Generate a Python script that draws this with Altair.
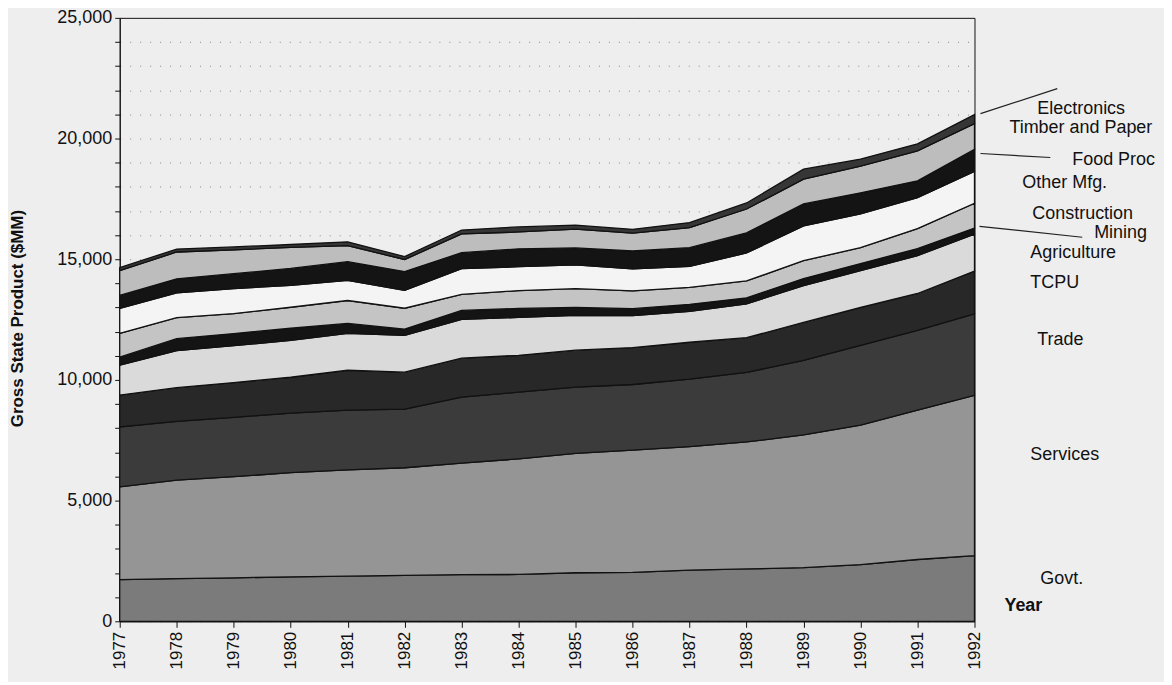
import altair as alt
import pandas as pd

years = list(range(1977, 1993))
sectors = ["Govt.", "Services", "Trade", "TCPU", "Agriculture", "Mining",
           "Construction", "Other Mfg.", "Food Proc", "Timber and Paper", "Electronics"]

govt = [1730, 1770, 1800, 1840, 1870, 1900, 1930, 1940, 2010, 2030, 2120, 2170, 2220, 2350, 2560, 2720]
services = [3840, 4080, 4190, 4320, 4400, 4460, 4620, 4790, 4950, 5060, 5120, 5260, 5500, 5780, 6190, 6640]
trade = [2480, 2430, 2460, 2460, 2480, 2430, 2740, 2760, 2740, 2720, 2790, 2880, 3090, 3300, 3300, 3380]
tcpu = [1320, 1400, 1440, 1490, 1650, 1530, 1610, 1530, 1530, 1530, 1530, 1440, 1570, 1570, 1530, 1770]
agriculture = [1240, 1530, 1530, 1530, 1530, 1530, 1610, 1570, 1440, 1320, 1280, 1400, 1530, 1530, 1570, 1530]
mining = [330, 500, 500, 500, 410, 250, 370, 370, 330, 290, 290, 250, 290, 290, 290, 250]
construction = [990, 870, 830, 870, 950, 870, 660, 740, 780, 740, 700, 700, 740, 660, 830, 1030]
other_mfg = [1030, 1030, 1030, 910, 830, 740, 1070, 990, 990, 910, 870, 1160, 1440, 1400, 1280, 1320]
food_proc = [540, 580, 620, 700, 780, 780, 660, 740, 700, 740, 780, 830, 910, 870, 700, 910]
timber = [1030, 1110, 990, 870, 660, 500, 780, 700, 780, 740, 830, 990, 1030, 1110, 1240, 1070]
electronics = [120, 120, 120, 120, 160, 120, 160, 210, 160, 160, 210, 250, 410, 290, 290, 370]

series = [govt, services, trade, tcpu, agriculture, mining, construction,
          other_mfg, food_proc, timber, electronics]
colors = ["#7b7b7b", "#959595", "#3b3b3b", "#282828", "#dadada", "#141414",
          "#c4c4c4", "#f4f4f4", "#141414", "#bdbdbd", "#363636"]

rows = []
for i, (name, vals) in enumerate(zip(sectors, series)):
    for y, v in zip(years, vals):
        rows.append({"Year": y, "Value": v, "Sector": name, "idx": i})
df = pd.DataFrame(rows)

# annotation labels (pixel positions relative to plot area)
label_text = ["Electronics", "Timber and Paper", "Food Proc", "Other Mfg.", "Construction",
              "Mining", "Agriculture", "TCPU", "Trade", "Services", "Govt."]
label_x = [920, 892, 955, 905, 915, 977, 913, 913, 920, 913, 923]
label_y = [91, 110, 143, 166, 197, 216, 236, 266, 323, 438, 563]
labels = pd.DataFrame({"t": label_text, "lx": label_x, "ly": label_y})

lead_x = [863, 863, 862]
lead_x2 = [940, 933, 965]
lead_y = [96, 136, 209]
lead_y2 = [71, 140, 220]
leads = pd.DataFrame({"x": lead_x, "x2": lead_x2, "y": lead_y, "y2": lead_y2})

FONT = "Liberation Sans"
ytick_values = list(range(0, 25001, 1000))

area = alt.Chart(df).mark_area(stroke="#111111", strokeWidth=1.3, interpolate="linear").encode(
    x=alt.X("Year:Q",
            scale=alt.Scale(domain=[1977, 1992], nice=False, zero=False),
            axis=alt.Axis(values=years, format="d", labelAngle=270, labelAlign="right",
                          labelBaseline="middle", labelFont=FONT, labelFontSize=17,
                          labelColor="#111", labelPadding=4, tickColor="#111", tickSize=6,
                          domainColor="#111", grid=False, title=None)),
    y=alt.Y("Value:Q", stack="zero",
            scale=alt.Scale(domain=[0, 25000], nice=False),
            axis=alt.Axis(values=ytick_values,
                          labelExpr="datum.value % 5000 == 0 ? format(datum.value, ',') : ''",
                          labelFont=FONT, labelFontSize=18, labelColor="#111", labelPadding=3,
                          tickColor="#111", tickSize=5, domainColor="#111",
                          grid=True, gridColor="#444", gridDash=[1, 9], gridOpacity=0.6,
                          title="Gross State Product ($MM)", titleFont=FONT, titleFontSize=17,
                          titleFontWeight="bold", titleColor="#111", titleAngle=270,
                          titleX=-102, titleY=301, titleAlign="center", titleBaseline="middle")),
    color=alt.Color("Sector:N", scale=alt.Scale(domain=sectors, range=colors), legend=None),
    order=alt.Order("idx:Q", sort="ascending"),
)

text = alt.Chart(labels).mark_text(align="left", baseline="middle", font=FONT,
                                   fontSize=18, color="#111").encode(
    x=alt.X("lx:Q", scale=None, axis=None),
    y=alt.Y("ly:Q", scale=None, axis=None),
    text="t:N",
)

year_lbl = alt.Chart(pd.DataFrame({"t": ["Year"], "lx": [887], "ly": [590]})).mark_text(
    align="left", baseline="middle", font=FONT, fontSize=18, fontWeight="bold", color="#111"
).encode(
    x=alt.X("lx:Q", scale=None, axis=None),
    y=alt.Y("ly:Q", scale=None, axis=None),
    text="t:N",
)

leaders = alt.Chart(leads).mark_rule(color="#222", strokeWidth=1.2).encode(
    x=alt.X("x:Q", scale=None, axis=None),
    x2="x2:Q",
    y=alt.Y("y:Q", scale=None, axis=None),
    y2="y2:Q",
)

chart = alt.layer(area, leaders, text, year_lbl).resolve_scale(
    x="independent", y="independent"
).properties(
    width=857, height=605,
    autosize="none",
    padding={"left": 112, "top": 9, "right": 190, "bottom": 60},
    background="#eeeeee",
).configure_view(stroke="#111", strokeWidth=1)

chart.save("out.html", embed_options={"renderer": "svg", "actions": False})
